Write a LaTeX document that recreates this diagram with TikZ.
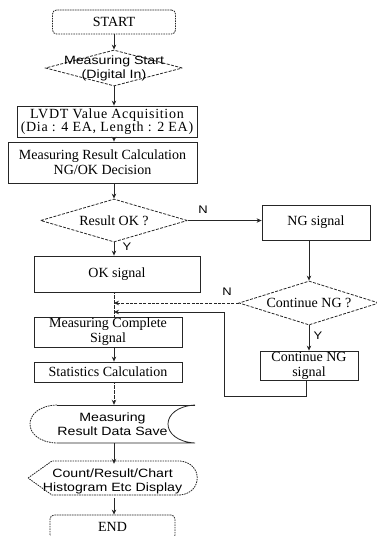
\documentclass[tikz,border=0pt]{standalone}
\usepackage{fontspec}
\setmainfont{Liberation Serif}
\newfontfamily\sansf[FakeStretch=1.18]{Liberation Sans}
\usetikzlibrary{shapes.geometric,arrows.meta,calc}
\tikzset{
  ln/.style={line width=0.8pt, draw=black!85},
  arr/.style={ln, -{Stealth[length=5pt,width=4.5pt]}},
  dotln/.style={dash pattern=on 1.6pt off 0.9pt},
  dashln/.style={dash pattern=on 3pt off 1.4pt},
  serif/.style={font=\fontsize{14}{15}\selectfont, align=center},
  sans/.style={font=\sansf\fontsize{12}{14}\selectfont, align=center},
  proc/.style={rectangle, ln, serif, inner sep=0pt},
  term/.style={rectangle, rounded corners=4pt, ln, dotln, serif, inner sep=0pt},
  dec/.style={diamond, ln, dashln, inner sep=0pt},
  yn/.style={font=\sansf\fontsize{11}{12}\selectfont, inner sep=0pt},
}
\begin{document}
\begin{tikzpicture}[x=1pt,y=-1pt]
\useasboundingbox (0,0) rectangle (377,536);
% nodes
\node[term, minimum width=123pt, minimum height=24pt] (start) at (114,22) {START};
\node[dec, minimum width=137pt, minimum height=36pt,
  label={[sans]center:Measuring Start\\(Digital In)}] (d1) at (114,68) {};
\node[proc, minimum width=180pt, minimum height=31pt,
  font=\fontsize{14}{13.5}\selectfont\addfontfeatures{LetterSpace=5}] (lvdt) at (107,121.5)
  {LVDT Value Acquisition\\(Dia : 4 EA, Length : 2 EA)};
\node[proc, minimum width=189pt, minimum height=41pt] (calc) at (102.5,162.5)
  {Measuring Result Calculation\\NG/OK Decision};
\node[dec, minimum width=147pt, minimum height=43pt,
  label={[serif]center:Result OK ?}] (d2) at (114,220.5) {};
\node[proc, minimum width=108pt, minimum height=35pt] (ng) at (316,222.5) {NG signal};
\node[proc, minimum width=166pt, minimum height=36pt] (ok) at (117,274) {OK signal};
\node[dec, minimum width=140pt, minimum height=44pt,
  label={[serif]center:Continue NG ?}] (d3) at (309,303) {};
\node[proc, minimum width=98pt, minimum height=29pt] (cng) at (309,365.5) {Continue NG\\signal};
\node[proc, minimum width=148pt, minimum height=30pt] (mc) at (108,332) {Measuring Complete\\Signal};
\node[proc, minimum width=148pt, minimum height=20pt] (stat) at (108,372) {Statistics Calculation};
\node[sans, minimum width=165pt, minimum height=38pt, inner sep=0pt] (save) at (112.5,424)
  {Measuring\\Result Data Save};
\node[sans, minimum width=169pt, minimum height=34pt, inner sep=0pt] (disp) at (112.5,481)
  {Count/Result/Chart\\Histogram Etc Display};
\node[term, minimum width=125pt, minimum height=24pt] (end) at (112.5,527) {END};
% shape outlines
\draw[ln] (195,405) -- (57,405);
\draw[ln,dotln] (57,405) .. controls (21,406) and (21,442) .. (57,443);
\draw[ln] (57,443) -- (195,443) .. controls (159,441) and (159,407) .. (195,405);
\draw[ln,dotln] (28,478) -- (52,461) -- (180,461) .. controls (203,463) and (203,493) .. (180,495) -- (52,495) -- cycle;
% connector points
\coordinate (j1) at (114,303);
\coordinate (j2) at (114,312);
\coordinate (lp1) at (306,396);
\coordinate (lp2) at (224,396);
\coordinate (lp3) at (224,312);
% connectors
\draw[arr] (start.south) -- (d1.north);
\draw[arr] (d1.south) -- (d1.south |- lvdt.north);
\draw[arr] (d1.south |- lvdt.south) -- (d1.south |- calc.north);
\draw[arr] (d1.south |- calc.south) -- (d2.north);
\draw[arr] (d2.east) -- (d2.east -| ng.west);
\draw[arr] (d2.south) -- (d2.south |- ok.north);
\draw[ln,dotln] (d2.south |- ok.south) -- (d2.south |- mc.north);
\draw[arr] (d3.north |- ng.south) -- (d3.north);
\draw[arr] (d3.south) -- (cng.north);
\draw[arr,dashln] (d3.west) -- (j1);
\draw[arr] (cng.south -| lp1) -- (lp1) -- (lp2) -- (lp3) -- (j2);
\draw[arr] (d2.south |- mc.south) -- (d2.south |- stat.north);
\draw[arr,dotln] (d2.south |- stat.south) -- (d2.south |- save.north);
\draw[arr] (d2.south |- save.south) -- (d2.south |- disp.north);
\draw[arr] (d2.south |- disp.south) -- (d2.south |- end.north);
% labels
\node[yn] (nlab1) at (203,210) {N};
\node[yn] (ylab1) at (127,247) {Y};
\node[yn] (nlab2) at (227,292) {N};
\node[yn] (ylab2) at (318,336) {Y};
\end{tikzpicture}
\end{document}
